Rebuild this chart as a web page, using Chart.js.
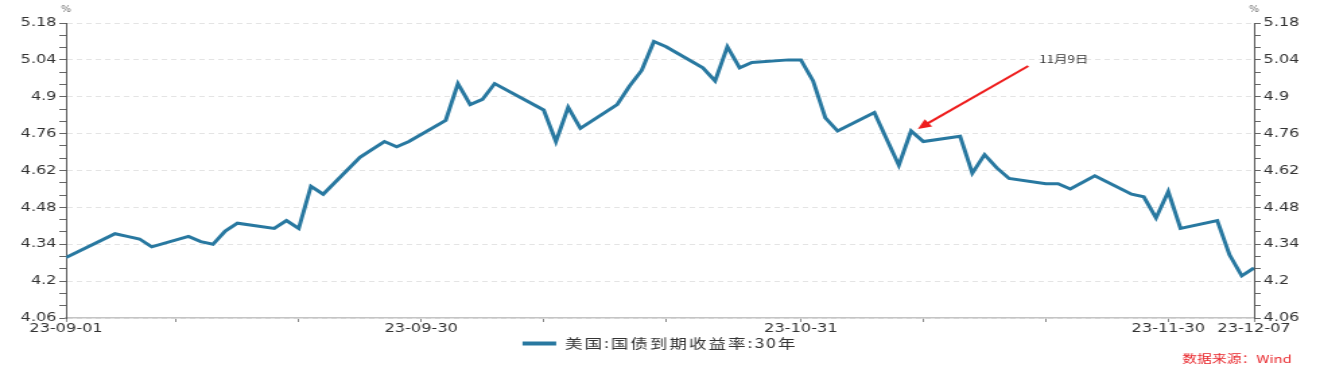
<!DOCTYPE html>
<html>
<head>
<meta charset="utf-8">
<script src="https://cdn.jsdelivr.net/npm/chart.js@4.4.1/dist/chart.umd.min.js"></script>
<style>
  html, body { margin: 0; padding: 0; background: #fff; overflow: hidden; }
  #chart { display: block; }
</style>
</head>
<body>
<!-- drawn at 980 wide and stretched to 1320 like the source export -->
<canvas id="chart" width="980" height="371" style="width:1320px;height:371px"></canvas>
<script>
// --- DATA ---
const dates = [
    '2023-09-01', '2023-09-05', '2023-09-06', '2023-09-07', '2023-09-08',
    '2023-09-11', '2023-09-12', '2023-09-13', '2023-09-14', '2023-09-15',
    '2023-09-18', '2023-09-19', '2023-09-20', '2023-09-21', '2023-09-22',
    '2023-09-25', '2023-09-26', '2023-09-27', '2023-09-28', '2023-09-29',
    '2023-10-02', '2023-10-03', '2023-10-04', '2023-10-05', '2023-10-06',
    '2023-10-10', '2023-10-11', '2023-10-12', '2023-10-13',
    '2023-10-16', '2023-10-17', '2023-10-18', '2023-10-19', '2023-10-20',
    '2023-10-23', '2023-10-24', '2023-10-25', '2023-10-26', '2023-10-27',
    '2023-10-30', '2023-10-31', '2023-11-01', '2023-11-02', '2023-11-03',
    '2023-11-06', '2023-11-07', '2023-11-08', '2023-11-09', '2023-11-10',
    '2023-11-13', '2023-11-14', '2023-11-15', '2023-11-16', '2023-11-17',
    '2023-11-20', '2023-11-21', '2023-11-22', '2023-11-24',
    '2023-11-27', '2023-11-28', '2023-11-29', '2023-11-30', '2023-12-01',
    '2023-12-04', '2023-12-05', '2023-12-06', '2023-12-07'
];
const yields = [
    4.29, 4.38, 4.37, 4.36, 4.33,
    4.37, 4.35, 4.34, 4.39, 4.42,
    4.40, 4.43, 4.40, 4.56, 4.53,
    4.67, 4.70, 4.73, 4.71, 4.73,
    4.81, 4.95, 4.87, 4.89, 4.95,
    4.85, 4.73, 4.86, 4.78,
    4.87, 4.94, 5.00, 5.11, 5.09,
    5.01, 4.96, 5.09, 5.01, 5.03,
    5.04, 5.04, 4.96, 4.82, 4.77,
    4.84, 4.74, 4.64, 4.77, 4.73,
    4.75, 4.61, 4.68, 4.63, 4.59,
    4.57, 4.57, 4.55, 4.60,
    4.53, 4.52, 4.44, 4.54, 4.40,
    4.43, 4.30, 4.22, 4.25
];
const seriesName = '美国:国债到期收益率:30年';
const yTicks = [4.06, 4.2, 4.34, 4.48, 4.62, 4.76, 4.9, 5.04, 5.18];
const xLabelDates = ['2023-09-01', '2023-09-30', '2023-10-31', '2023-11-30', '2023-12-07'];
const xMinorDates = ['2023-09-10', '2023-09-20', '2023-10-10', '2023-10-20', '2023-11-10', '2023-11-20'];
const unitLabel = '%';
const sourceText = '数据来源：Wind';
const noteDate = '2023-11-09';
const noteText = '11月9日';

// --- STYLE ---
const lineColor = '#2878a0';
const noteColor = '#ee1c1c';
const textColor = '#333333';
const tickFont = { family: '"DejaVu Sans", sans-serif', size: 12 };
const cjkFamily = '"Noto Sans CJK SC", sans-serif';

// --- HELPERS ---
const baseDay = Date.UTC(2023, 8, 1);
function dayOf(str) {
    const [y, m, d] = str.split('-').map(Number);
    return (Date.UTC(y, m - 1, d) - baseDay) / 864e5;
}
function shortDate(str) {
    return str.slice(2);
}

const points = dates.map((d, i) => ({ x: dayOf(d), y: yields[i] }));

// y ticks: the labelled ones plus two unlabelled marks between each pair
function buildYTicks(axis) {
    const list = [];
    yTicks.forEach((v, i) => {
        list.push({ value: v, minor: false });
        if (i < yTicks.length - 1) {
            const step = (yTicks[i + 1] - v) / 3;
            list.push({ value: v + step, minor: true });
            list.push({ value: v + step * 2, minor: true });
        }
    });
    axis.ticks = list;
}
function yLabel(value, index, ticks) {
    return ticks[index].minor ? '' : String(+value.toFixed(2));
}

function buildXTicks(axis) {
    const list = xLabelDates.map(d => ({ value: dayOf(d), minor: false, text: shortDate(d) }))
        .concat(xMinorDates.map(d => ({ value: dayOf(d), minor: true, text: '' })));
    list.sort((a, b) => a.value - b.value);
    axis.ticks = list;
}

function yAxis(position, withGrid) {
    return {
        type: 'linear',
        position: position,
        display: true,
        min: yTicks[0],
        max: yTicks[yTicks.length - 1],
        afterBuildTicks: buildYTicks,
        afterFit: (scale) => { scale.width = 49; },
        border: { display: true, color: '#555555', width: 1, dash: [4, 3] },
        grid: {
            drawOnChartArea: withGrid,
            color: (c) => (c.tick && c.tick.minor) ? 'rgba(0,0,0,0)' : '#e4e4e4',
            tickColor: '#666666',
            tickLength: 5,
            lineWidth: 1
        },
        ticks: {
            autoSkip: false,
            padding: 2,
            color: textColor,
            font: tickFont,
            callback: yLabel,
            z: 1
        }
    };
}

// legend text is spaced out a little, the axis text is not
const spacingPlugin = {
    id: 'spacing',
    beforeLayout(chart) { chart.ctx.letterSpacing = '1.5px'; },
    afterLayout(chart) { chart.ctx.letterSpacing = '0px'; },
    beforeDraw(chart) { chart.ctx.letterSpacing = '1.5px'; },
    beforeDatasetsDraw(chart) { chart.ctx.letterSpacing = '0px'; }
};

// unit marks, source line and the 11月9日 arrow
const extrasPlugin = {
    id: 'extras',
    afterDraw(chart) {
        const ctx = chart.ctx;
        const xs = chart.scales.x;
        const ys = chart.scales.y;
        const area = chart.chartArea;
        ctx.save();
        ctx.letterSpacing = '0px';

        ctx.fillStyle = '#777777';
        ctx.font = '8px "DejaVu Sans", sans-serif';
        ctx.textAlign = 'center';
        ctx.textBaseline = 'middle';
        ctx.fillText(unitLabel, chart.scales.y.right, area.top - 13);
        ctx.fillText(unitLabel, chart.scales.y2.left, area.top - 13);

        ctx.fillStyle = '#e8262b';
        ctx.font = '11px ' + cjkFamily;
        ctx.textAlign = 'right';
        ctx.fillText(sourceText, 959, 359);

        // arrow pointing at the Nov 9 point
        const idx = dates.indexOf(noteDate);
        const tipX = xs.getPixelForValue(dayOf(noteDate)) + 5;
        const tipY = ys.getPixelForValue(yields[idx]) - 2;
        const tailX = tipX + 82;
        const tailY = tipY - 63;
        const len = Math.hypot(tailX - tipX, tailY - tipY);
        const ux = (tailX - tipX) / len, uy = (tailY - tipY) / len;
        const head = 10, half = 4.5;
        ctx.strokeStyle = noteColor;
        ctx.fillStyle = noteColor;
        ctx.lineWidth = 2;
        ctx.beginPath();
        ctx.moveTo(tailX, tailY);
        ctx.lineTo(tipX + ux * head * 0.8, tipY + uy * head * 0.8);
        ctx.stroke();
        ctx.beginPath();
        ctx.moveTo(tipX, tipY);
        ctx.lineTo(tipX + ux * head - uy * half, tipY + uy * head + ux * half);
        ctx.lineTo(tipX + ux * head + uy * half, tipY + uy * head - ux * half);
        ctx.closePath();
        ctx.fill();

        ctx.fillStyle = textColor;
        ctx.font = '10px ' + cjkFamily;
        ctx.textAlign = 'left';
        ctx.fillText(noteText, tailX + 8, tailY - 7);
        ctx.restore();
    }
};

const chart = new Chart(document.getElementById('chart'), {
    type: 'line',
    data: {
        datasets: [{
            label: seriesName,
            data: points,
            yAxisID: 'y',
            borderColor: lineColor,
            backgroundColor: lineColor,
            borderWidth: 3,
            pointRadius: 0,
            tension: 0,
            fill: false
        }]
    },
    options: {
        responsive: false,
        devicePixelRatio: 1,
        animation: false,
        events: [],
        layout: { padding: { top: 23, left: 0, right: 0, bottom: 11 } },
        scales: {
            x: {
                type: 'linear',
                min: 0,
                max: dayOf(dates[dates.length - 1]),
                afterBuildTicks: buildXTicks,
                afterFit: (scale) => { scale.height = 15; },
                border: { display: true, color: '#c4c4c4', width: 1.5 },
                grid: {
                    drawOnChartArea: false,
                    tickColor: '#888888',
                    tickLength: 4
                },
                ticks: {
                    autoSkip: false,
                    maxRotation: 0,
                    padding: 0,
                    color: textColor,
                    font: tickFont,
                    callback: (value, index, ticks) => ticks[index].text,
                    z: 1
                }
            },
            y: yAxis('left', true),
            y2: yAxis('right', false)
        },
        plugins: {
            legend: {
                display: true,
                position: 'bottom',
                labels: {
                    boxWidth: 25,
                    boxHeight: 4,
                    padding: 4,
                    color: textColor,
                    font: { family: cjkFamily, size: 13 },
                    generateLabels(chart) {
                        const items = Chart.defaults.plugins.legend.labels.generateLabels(chart);
                        items.forEach(it => { it.lineWidth = 0; it.fillStyle = lineColor; });
                        return items;
                    }
                }
            },
            tooltip: { enabled: false }
        }
    },
    plugins: [spacingPlugin, extrasPlugin]
});
</script>
</body>
</html>
